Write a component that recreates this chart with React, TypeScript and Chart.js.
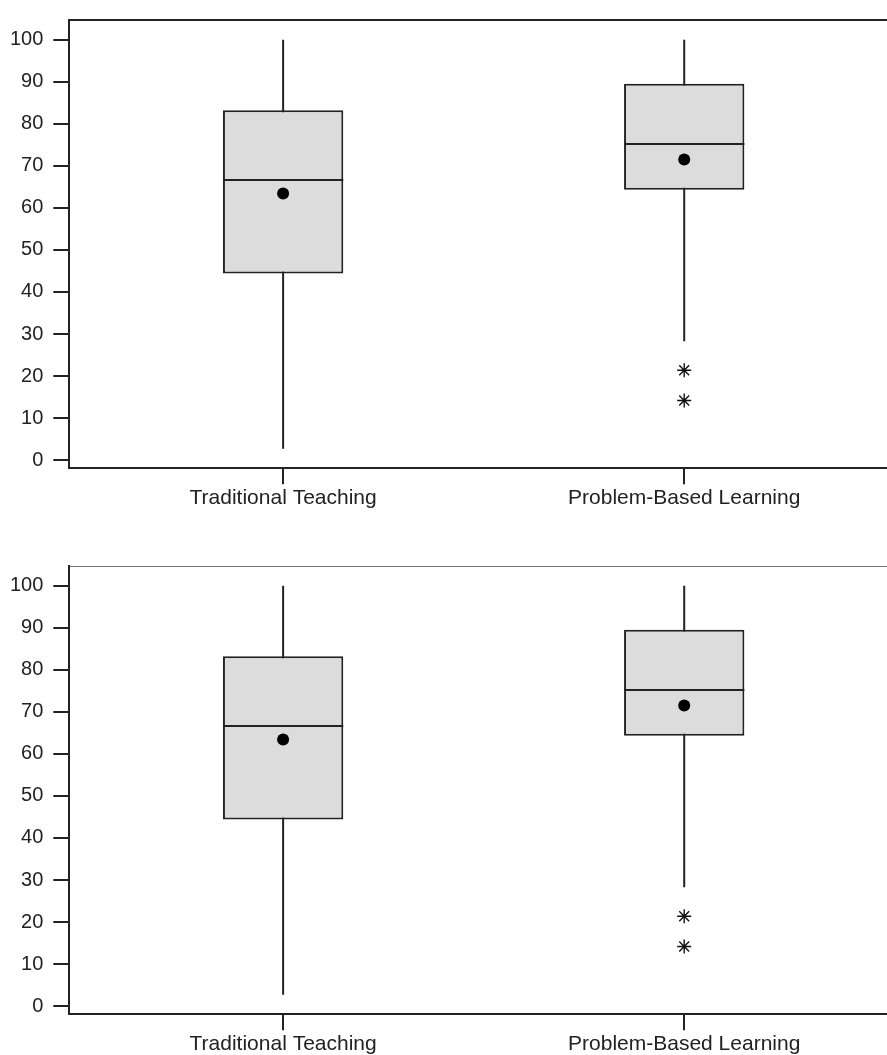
import React, { useEffect, useRef } from 'react';
import { Chart, registerables } from 'chart.js';

Chart.register(...registerables);

// ---- data ----
const categories = ['Traditional Teaching', 'Problem-Based Learning'];
const categoryIndex = [0, 1];
const whiskerLow = [2.7, 28.3];
const quartile1 = [44.4, 64.3];
const medians = [66.6, 75.2];
const quartile3 = [83.2, 89.5];
const whiskerHigh = [100, 100];
const means = [63.4, 71.5];
const outlierCategory = [1, 1];
const outlierValues = [21.4, 14.2];
const yTickValues = [0, 10, 20, 30, 40, 50, 60, 70, 80, 90, 100];

// axis ranges
const Y_MIN = -1.93;
const Y_MAX = 104.67;
const X_MIN = -0.5331;
const X_MAX = 1.5096;

const CANVAS_W = 897;
const CANVAS_H = 546;
const FONT = "'Liberation Sans', Arial, sans-serif";
const INK = '#222222';

const medianPlugin = {
  id: 'medianLines',
  afterDatasetDraw(chart: any, args: any) {
    if (args.meta.label !== 'box') return;
    const ctx = chart.ctx;
    const yScale = chart.scales.y;
    ctx.save();
    ctx.strokeStyle = INK;
    ctx.lineWidth = 2;
    args.meta.data.forEach((bar: any, i: number) => {
      const { x, width } = bar.getProps(['x', 'width'], true);
      const y = yScale.getPixelForValue(medians[i]);
      ctx.beginPath();
      ctx.moveTo(x - width / 2, y);
      ctx.lineTo(x + width / 2, y);
      ctx.stroke();
    });
    ctx.restore();
  },
};

function BoxChart({ topFrameHeight, topFrameColor, topFrameWidth }: { topFrameHeight: number; topFrameColor: string; topFrameWidth: number }) {
  const ref = useRef<HTMLCanvasElement | null>(null);
  useEffect(() => {
    if (!ref.current) return;
    const chart = new Chart(ref.current, {
      type: 'bar',
      data: {
        datasets: [
          {
            type: 'bar',
            label: 'whisker',
            data: categoryIndex.map((c, i) => ({ x: c, y: [whiskerLow[i], whiskerHigh[i]] })) as any,
            backgroundColor: INK,
            borderWidth: 0,
            grouped: false,
            categoryPercentage: 1,
            barPercentage: 0.3,
            maxBarThickness: 2,
            order: 3,
            xAxisID: 'x',
            yAxisID: 'y',
          } as any,
          {
            type: 'bar',
            label: 'box',
            data: categoryIndex.map((c, i) => ({ x: c, y: [quartile1[i], quartile3[i]] })) as any,
            backgroundColor: '#dcdcdc',
            borderColor: INK,
            borderWidth: 2,
            borderSkipped: false,
            grouped: false,
            categoryPercentage: 1,
            barPercentage: 0.3,
            order: 2,
            xAxisID: 'x',
            yAxisID: 'y',
          } as any,
          {
            type: 'line',
            label: 'mean',
            data: categoryIndex.map((c, i) => ({ x: c, y: means[i] })),
            showLine: false,
            pointRadius: 6,
            pointBackgroundColor: '#000',
            pointBorderWidth: 0,
            order: 1,
            xAxisID: 'x',
            yAxisID: 'y',
          } as any,
          {
            type: 'line',
            label: 'outliers',
            data: outlierCategory.map((c, i) => ({ x: c, y: outlierValues[i] })),
            showLine: false,
            pointStyle: 'star',
            pointRadius: 7,
            pointBorderColor: '#111',
            pointBorderWidth: 1.4,
            order: 1,
            xAxisID: 'x',
            yAxisID: 'y',
          } as any,
        ],
      },
      options: {
        animation: false,
        responsive: false,
        devicePixelRatio: 1,
        events: [],
        layout: { padding: 0 },
        plugins: { legend: { display: false }, tooltip: { enabled: false } },
        scales: {
          x: {
            type: 'linear',
            position: 'bottom',
            offset: false,
            min: X_MIN,
            max: X_MAX,
            afterBuildTicks: (s: any) => {
              s.ticks = categoryIndex.map((v) => ({ value: v }));
            },
            afterFit: (s: any) => {
              s.height = CANVAS_H - 468.3;
            },
            ticks: {
              autoSkip: false,
              maxRotation: 0,
              padding: 1,
              color: INK,
              font: { family: FONT, size: 21 },
              callback: (v: any) => categories[v as number] ?? '',
            },
            grid: {
              offset: false,
              drawOnChartArea: false,
              drawTicks: true,
              tickLength: 16,
              tickColor: INK,
              lineWidth: 2,
            },
            border: { display: true, color: INK, width: 2 },
          },
          x2: {
            type: 'linear',
            position: 'top',
            offset: false,
            min: X_MIN,
            max: X_MAX,
            afterFit: (s: any) => {
              s.height = topFrameHeight;
            },
            ticks: { display: false },
            grid: { offset: false, drawOnChartArea: false, drawTicks: false },
            border: { display: true, color: topFrameColor, width: topFrameWidth },
          },
          y: {
            type: 'linear',
            position: 'left',
            min: Y_MIN,
            max: Y_MAX,
            afterBuildTicks: (s: any) => {
              s.ticks = yTickValues.map((v) => ({ value: v }));
            },
            afterFit: (s: any) => {
              s.width = 69.3;
            },
            ticks: {
              autoSkip: false,
              padding: 10,
              color: INK,
              font: { family: FONT, size: 20, lineHeight: 1 },
              callback: (v: any) => String(v),
            },
            grid: {
              drawOnChartArea: false,
              drawTicks: true,
              tickLength: 16,
              tickColor: INK,
              lineWidth: 2,
            },
            border: { display: true, color: INK, width: 2 },
          },
        },
      } as any,
      plugins: [medianPlugin],
    });
    return () => chart.destroy();
  }, [topFrameHeight, topFrameColor, topFrameWidth]);
  return (
    <canvas
      ref={ref}
      width={CANVAS_W}
      height={CANVAS_H}
      style={{ display: 'block', width: CANVAS_W, height: CANVAS_H }}
    />
  );
}

export default function App() {
  return (
    <div
      style={{
        position: 'absolute',
        left: 0,
        top: 0,
        width: 887,
        height: 1055,
        overflow: 'hidden',
        background: '#ffffff',
      }}
    >
      <div style={{ position: 'absolute', left: 0, top: 0 }}>
        <BoxChart topFrameHeight={12.3} topFrameColor={INK} topFrameWidth={2} />
      </div>
      <div style={{ position: 'absolute', left: 0, top: 546 }}>
        <BoxChart topFrameHeight={10.7} topFrameColor="#777777" topFrameWidth={1} />
      </div>
    </div>
  );
}
